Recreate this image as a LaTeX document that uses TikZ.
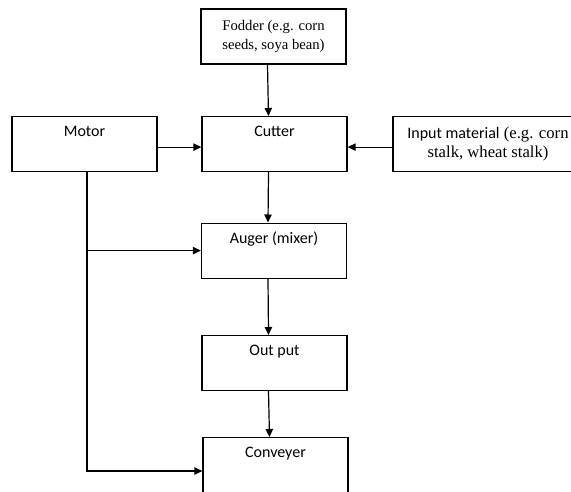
\documentclass[tikz,border=0pt]{standalone}
\usepackage{fontspec}
\setmainfont{Liberation Serif}
\newfontfamily\calibri{Carlito}
\usetikzlibrary{positioning,arrows.meta}

\begin{document}
\begin{tikzpicture}[x=0.75pt,y=-0.75pt,line width=0.9pt,
    blk/.style={draw,anchor=north,minimum width=108.75pt,inner ysep=0pt,
        text height=15pt,text depth=26.25pt,font=\calibri\fontsize{12}{14}\selectfont},
    blk2/.style={draw,anchor=north,align=center,minimum height=41.25pt,inner sep=0pt},
    arr/.style={-{Triangle[length=6pt,width=5.5pt]}}]
    \useasboundingbox (0,0) rectangle (571,492);
    \node[blk2,minimum width=108.75pt,font=\fontsize{11}{14.25}\selectfont] (fodder) at (273.5,8.5)
        {Fodder (e.g. corn\\seeds, soya bean)};
    \node[blk] (cutter) at (274.5,116) {Cutter};
    \node[blk] (motor) at (84.5,116) {Motor};
    \node[blk2,minimum width=142.5pt,font=\fontsize{12.5}{13.75}\selectfont] (input) at (488,116)
        {{\calibri\fontsize{12}{13.75}\selectfont Input material} (e.g. corn\\stalk, wheat stalk)};
    \node[blk] (auger) at (274,222.5) {Auger (mixer)};
    \node[blk] (output) at (274.5,335) {Out put};
    \node[blk,text depth=30pt] (conveyer) at (275.5,437) {Conveyer};
    % links down the middle
    \draw[arr] ([xshift=-4.5pt]fodder.south) -- ([xshift=-4.5pt]cutter.north);
    \draw[arr] ([xshift=-4.5pt]cutter.south) -- ([xshift=-4.5pt]auger.north);
    \draw[arr] ([xshift=-4.5pt]auger.south) -- ([xshift=-4.5pt]output.north);
    \draw[arr] ([xshift=-4.5pt]output.south) -- ([xshift=-4.5pt]conveyer.north);
    % side inputs
    \draw[arr] ([yshift=-2.25pt]motor.east) -- ([yshift=-2.25pt]cutter.west);
    \draw[arr] ([yshift=-2.25pt]input.west) -- ([yshift=-2.25pt]cutter.east);
    % motor drive line
    \coordinate (drop) at ([xshift=1.9pt]motor.south);
    \coordinate (bend) at ([yshift=-25.5pt]conveyer.north west);
    \draw[arr] (drop) |- (bend);
    \draw[arr] (drop |- auger.west) -- (auger.west);
\end{tikzpicture}
\end{document}
